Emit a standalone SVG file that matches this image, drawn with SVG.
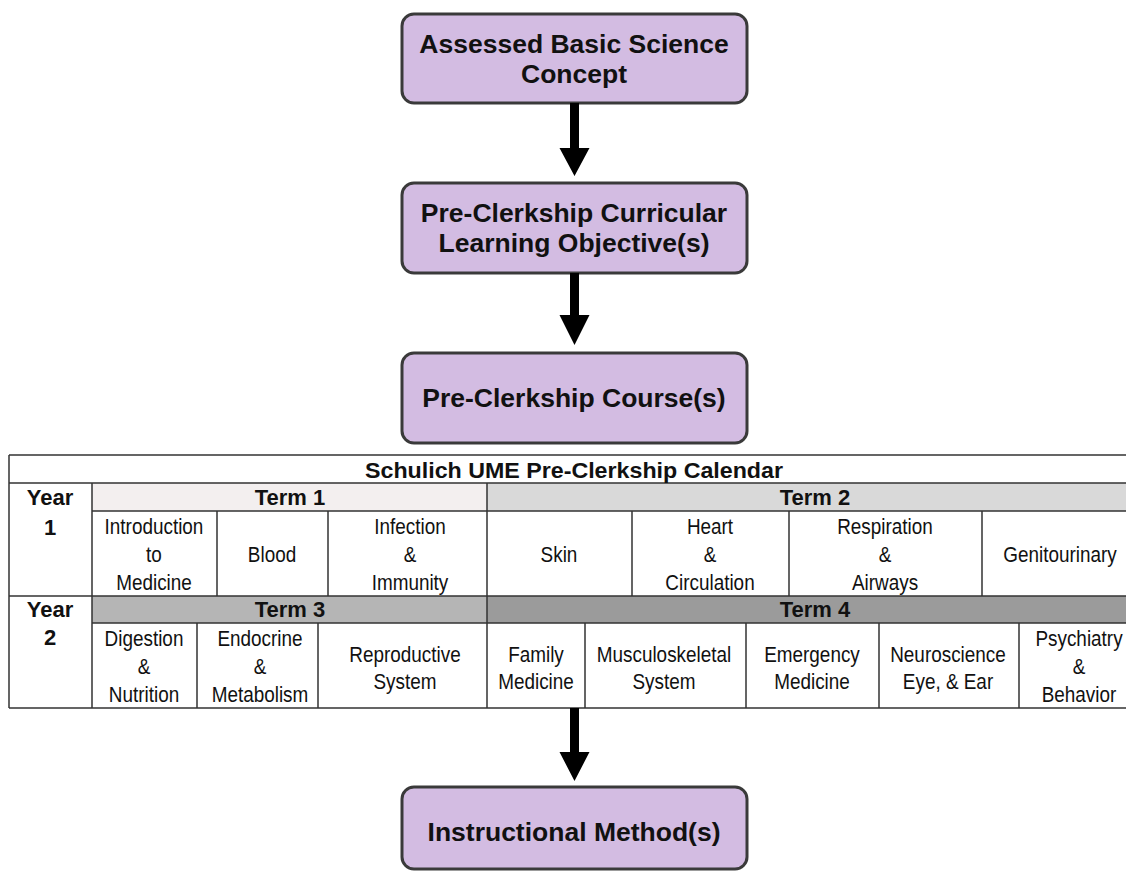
<svg xmlns="http://www.w3.org/2000/svg" width="1126" height="871" viewBox="0 0 1126 871">
<style>
.node rect{fill:#d3bce2;stroke:#3a3a3a;stroke-width:3}
.bt{font-family:"Liberation Sans",Arial,sans-serif;font-weight:bold;font-size:26.5px;fill:#111;text-anchor:middle}
.hd{font-family:"Liberation Sans",Arial,sans-serif;font-weight:bold;font-size:22px;fill:#111;text-anchor:middle}
.ce{font-family:"Liberation Sans",Arial,sans-serif;font-size:22px;fill:#111;text-anchor:middle}
.ln{stroke:#333;stroke-width:1.5;fill:none}
.arr{fill:#000}
</style>
<rect x="0" y="0" width="1126" height="871" fill="#fff"/>
<g id="n1" class="node"><rect x="402" y="14" width="345" height="89" rx="12"/><text class="bt" x="574" y="53">Assessed Basic Science</text><text class="bt" x="574" y="83">Concept</text></g>
<g id="n2" class="node"><rect x="402" y="183" width="345" height="90" rx="12"/><text class="bt" x="574" y="222">Pre-Clerkship Curricular</text><text class="bt" x="574" y="252">Learning Objective(s)</text></g>
<g id="n3" class="node"><rect x="402" y="353" width="345" height="90" rx="12"/><text class="bt" x="574" y="407">Pre-Clerkship Course(s)</text></g>
<g id="n5" class="node"><rect x="402" y="787" width="345" height="82" rx="12"/><text class="bt" x="574" y="841">Instructional Method(s)</text></g>
<g id="calendar">
<rect x="9" y="455" width="1130" height="253" fill="#fff"/>
<rect x="92" y="483" width="395" height="28" fill="#f3efef"/>
<rect x="487" y="483" width="652" height="28" fill="#d9d9d9"/>
<rect x="92" y="596" width="395" height="27" fill="#b5b5b5"/>
<rect x="487" y="596" width="652" height="27" fill="#9b9b9b"/>
<path class="ln" d="M9,455H1139M9,483H1139M92,511H1139M9,596H1139M92,623H1139M9,708H1139M9,455V708M92,483V708M487,483V708M217,511V596M328,511V596M632,511V596M789,511V596M982,511V596M197,623V708M318,623V708M585,623V708M746,623V708M879,623V708M1019,623V708"/>
<text class="hd" x="574" y="478" textLength="418" lengthAdjust="spacingAndGlyphs">Schulich UME Pre-Clerkship Calendar</text>
<text class="hd" x="50" y="505">Year</text><text class="hd" x="50" y="535">1</text>
<text class="hd" x="50" y="617">Year</text><text class="hd" x="50" y="645">2</text>
<text class="hd" x="290" y="505">Term 1</text>
<text class="hd" x="815" y="505">Term 2</text>
<text class="hd" x="290" y="617">Term 3</text>
<text class="hd" x="815" y="617">Term 4</text>
<g transform="scale(0.86,1)">
<text class="ce" x="179.07" y="534">Introduction</text><text class="ce" x="179.07" y="562">to</text><text class="ce" x="179.07" y="590">Medicine</text>
<text class="ce" x="316.28" y="562">Blood</text>
<text class="ce" x="476.74" y="534">Infection</text><text class="ce" x="476.74" y="562">&amp;</text><text class="ce" x="476.74" y="590">Immunity</text>
<text class="ce" x="650" y="562">Skin</text>
<text class="ce" x="825.58" y="534">Heart</text><text class="ce" x="825.58" y="562">&amp;</text><text class="ce" x="825.58" y="590">Circulation</text>
<text class="ce" x="1029.07" y="534">Respiration</text><text class="ce" x="1029.07" y="562">&amp;</text><text class="ce" x="1029.07" y="590">Airways</text>
<text class="ce" x="1232.56" y="562">Genitourinary</text>
<text class="ce" x="167.44" y="646">Digestion</text><text class="ce" x="167.44" y="674">&amp;</text><text class="ce" x="167.44" y="702">Nutrition</text>
<text class="ce" x="302.33" y="646">Endocrine</text><text class="ce" x="302.33" y="674">&amp;</text><text class="ce" x="302.33" y="702">Metabolism</text>
<text class="ce" x="470.93" y="662">Reproductive</text><text class="ce" x="470.93" y="689">System</text>
<text class="ce" x="623.26" y="662">Family</text><text class="ce" x="623.26" y="689">Medicine</text>
<text class="ce" x="772.09" y="662">Musculoskeletal</text><text class="ce" x="772.09" y="689">System</text>
<text class="ce" x="944.19" y="662">Emergency</text><text class="ce" x="944.19" y="689">Medicine</text>
<text class="ce" x="1102.33" y="662">Neuroscience</text><text class="ce" x="1102.33" y="689">Eye, &amp; Ear</text>
<text class="ce" x="1254.65" y="646">Psychiatry</text><text class="ce" x="1254.65" y="674">&amp;</text><text class="ce" x="1254.65" y="702">Behavior</text>
</g>
</g>
<g id="connectors">
<path class="arr" d="M570,103H579V148H589.5L574.5,176L559.5,148H570Z"/>
<path class="arr" d="M570,273H579V315H589.5L574.5,345L559.5,315H570Z"/>
<path class="arr" d="M570,708H579V752H589.5L574.5,781L559.5,752H570Z"/>
</g>
</svg>
